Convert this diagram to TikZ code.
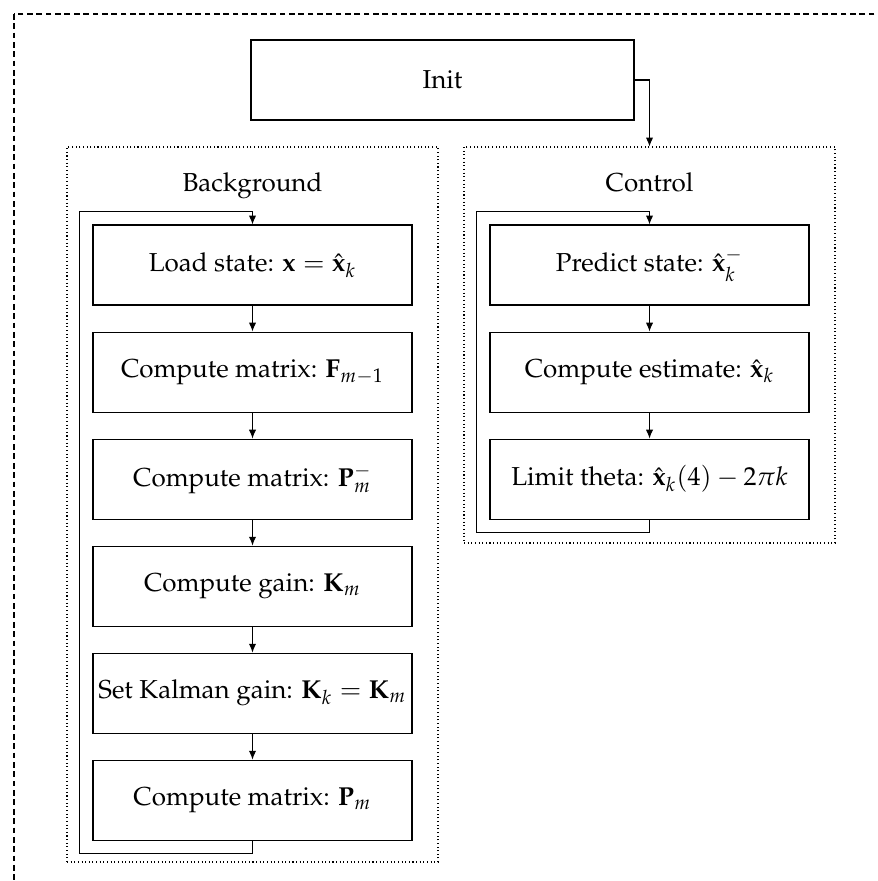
\documentclass[tikz,border=0pt]{standalone}
\usepackage[T1]{fontenc}
\usepackage{mathpazo}
\usetikzlibrary{positioning, arrows.meta, fit}

\def\u{0.385pt}

\begin{document}
\begin{tikzpicture}[
    x=\u, y=-\u,
    node distance=26*\u,
    block/.style={draw, thin, minimum width=319*\u, minimum height=80*\u, inner sep=0pt},
    frame/.style={draw, densely dotted, thin, inner sep=0pt},
    title/.style={anchor=base, inner sep=0pt},
    arrow/.style={-{Latex[length=3.4pt, width=2.8pt]}, thin}
]
    \clip (0,0) rectangle (877,881);
    % outer border
    \draw[dash pattern=on 2.2pt off 1.4pt, thin] (14,14) rectangle (900,900);

    % NODES
    \node[block, minimum width=383*\u] (init) at (442.5,80) {Init};

    \node[frame, fit={(67,147) (438,862)}] (bg) {};
    \node[title] (bg_title) at (252.5,192) {Background};
    \node[block] (bg1) at (252.5,265) {Load state: $\mathbf{x} = \hat{\mathbf{x}}_k$};
    \node[block, below=of bg1] (bg2) {Compute matrix: $\mathbf{F}_{m-1}$};
    \node[block, below=of bg2] (bg3) {Compute matrix: $\mathbf{P}_m^-$};
    \node[block, below=of bg3] (bg4) {Compute gain: $\mathbf{K}_m$};
    \node[block, below=of bg4] (bg5) {Set Kalman gain: $\mathbf{K}_k = \mathbf{K}_m$};
    \node[block, below=of bg5] (bg6) {Compute matrix: $\mathbf{P}_m$};

    \node[frame, fit={(464,147) (835,543)}] (ctrl) {};
    \node[title] (ctrl_title) at (649.5,192) {Control};
    \node[block] (ct1) at (649.5,265) {Predict state: $\hat{\mathbf{x}}_k^-$};
    \node[block, below=of ct1] (ct2) {Compute estimate: $\hat{\mathbf{x}}_k$};
    \node[block, below=of ct2] (ct3) {Limit theta: $\hat{\mathbf{x}}_k(4) - 2\pi k$};

    \coordinate (bg_loop) at ([shift={(-13,-13)}]bg1.north west);
    \coordinate (ct_loop) at ([shift={(-13,-13)}]ct1.north west);

    % EDGES
    \draw[arrow] (init.east) -| (ctrl.north);

    \draw[arrow] (bg1) -- (bg2);
    \draw[arrow] (bg2) -- (bg3);
    \draw[arrow] (bg3) -- (bg4);
    \draw[arrow] (bg4) -- (bg5);
    \draw[arrow] (bg5) -- (bg6);
    \draw[arrow] (bg6.south) -- ++(0,13) -| (bg_loop) -| (bg1.north);

    \draw[arrow] (ct1) -- (ct2);
    \draw[arrow] (ct2) -- (ct3);
    \draw[arrow] (ct3.south) -- ++(0,13) -| (ct_loop) -| (ct1.north);

\end{tikzpicture}
\end{document}
